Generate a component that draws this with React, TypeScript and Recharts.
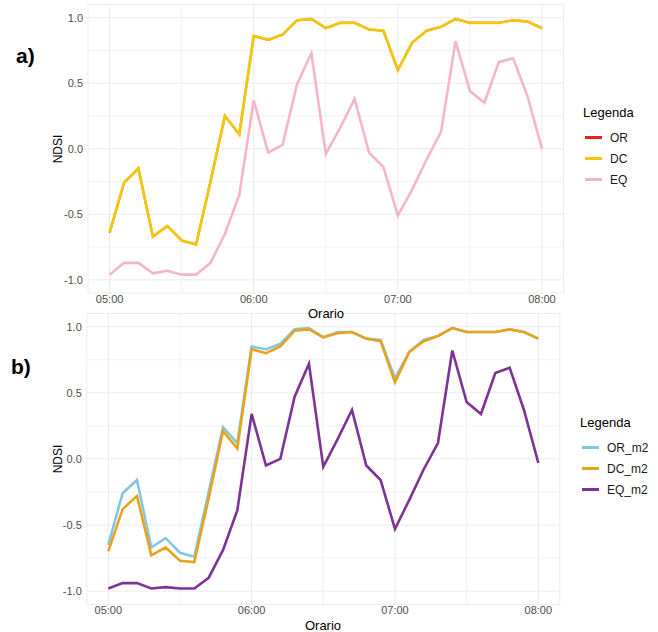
import { LineChart, Line, XAxis, YAxis, CartesianGrid, ReferenceLine } from "recharts";

const times = [
  "05:00", "05:06", "05:12", "05:18", "05:24", "05:30", "05:36", "05:42", "05:48", "05:54",
  "06:00", "06:06", "06:12", "06:18", "06:24", "06:30", "06:36", "06:42", "06:48", "06:54",
  "07:00", "07:06", "07:12", "07:18", "07:24", "07:30", "07:36", "07:42", "07:48", "07:54",
  "08:00",
];

// panel a
const orA = [-0.64, -0.26, -0.15, -0.67, -0.59, -0.70, -0.73, -0.25, 0.25, 0.11, 0.86, 0.83, 0.87, 0.98, 0.99, 0.92, 0.96, 0.96, 0.91, 0.90, 0.60, 0.81, 0.90, 0.93, 0.99, 0.96, 0.96, 0.96, 0.98, 0.97, 0.92];
const dcA = [-0.64, -0.26, -0.15, -0.67, -0.59, -0.70, -0.73, -0.25, 0.25, 0.11, 0.86, 0.83, 0.87, 0.98, 0.99, 0.92, 0.96, 0.96, 0.91, 0.90, 0.60, 0.81, 0.90, 0.93, 0.99, 0.96, 0.96, 0.96, 0.98, 0.97, 0.92];
const eqA = [-0.96, -0.87, -0.87, -0.95, -0.93, -0.96, -0.96, -0.87, -0.65, -0.35, 0.37, -0.03, 0.03, 0.49, 0.73, -0.04, 0.16, 0.38, -0.03, -0.14, -0.51, -0.31, -0.08, 0.13, 0.82, 0.44, 0.35, 0.66, 0.69, 0.40, 0.00];

// panel b
const orB = [-0.65, -0.26, -0.16, -0.67, -0.60, -0.71, -0.74, -0.25, 0.24, 0.12, 0.85, 0.83, 0.87, 0.98, 0.99, 0.92, 0.96, 0.96, 0.91, 0.90, 0.61, 0.81, 0.90, 0.93, 0.99, 0.96, 0.96, 0.96, 0.98, 0.96, 0.91];
const dcB = [-0.70, -0.38, -0.28, -0.73, -0.67, -0.77, -0.78, -0.30, 0.21, 0.08, 0.83, 0.80, 0.85, 0.97, 0.98, 0.92, 0.95, 0.96, 0.91, 0.89, 0.58, 0.81, 0.89, 0.93, 0.99, 0.96, 0.96, 0.96, 0.98, 0.96, 0.91];
const eqB = [-0.98, -0.94, -0.94, -0.98, -0.97, -0.98, -0.98, -0.90, -0.69, -0.39, 0.34, -0.05, 0.00, 0.47, 0.72, -0.06, 0.15, 0.37, -0.05, -0.16, -0.53, -0.31, -0.08, 0.12, 0.82, 0.43, 0.34, 0.65, 0.69, 0.37, -0.03];

const xMajor = [0, 60, 120, 180];
const xMinor = [30, 90, 150];
const yMajor = [-1, -0.5, 0, 0.5, 1];
const yMinor = [-0.75, -0.25, 0.25, 0.75];

const toMin = (t: string) => {
  const [h, m] = t.split(":").map(Number);
  return (h - 5) * 60 + m;
};
const fmtTime = (v: number) => `0${5 + Math.floor(v / 60)}:00`;

const dataA = times.map((t, i) => ({ min: toMin(t), OR: orA[i], DC: dcA[i], EQ: eqA[i] }));
const dataB = times.map((t, i) => ({ min: toMin(t), OR_m2: orB[i], DC_m2: dcB[i], EQ_m2: eqB[i] }));

const FONT = "'Liberation Sans', Arial, Helvetica, sans-serif";
const tickStyle = { fill: "#4d4d4d", fontSize: 11, fontFamily: FONT };

type Series = { key: string; color: string; width: number };

function Panel({ data, series, height, margin }: { data: any[]; series: Series[]; height: number; margin: any }) {
  return (
    <LineChart width={658} height={height} data={data} margin={margin}>
      <CartesianGrid stroke="#ebebeb" strokeWidth={1} />
      {xMinor.map((v) => (
        <ReferenceLine key={"x" + v} x={v} stroke="#efefef" strokeWidth={0.8} />
      ))}
      {yMinor.map((v) => (
        <ReferenceLine key={"y" + v} y={v} stroke="#efefef" strokeWidth={0.8} />
      ))}
      <XAxis
        type="number"
        dataKey="min"
        domain={[-9, 189]}
        ticks={xMajor}
        tickFormatter={fmtTime}
        axisLine={false}
        tickLine={false}
        tickSize={0}
        tickMargin={2}
        height={20}
        tick={tickStyle}
        allowDataOverflow
      />
      <YAxis
        type="number"
        domain={[-1.1, 1.1]}
        ticks={yMajor}
        tickFormatter={(v: number) => v.toFixed(1)}
        axisLine={false}
        tickLine={false}
        tickSize={0}
        tickMargin={5}
        width={50}
        tick={tickStyle}
        allowDataOverflow
      />
      {series.map((s) => (
        <Line key={s.key} type="linear" dataKey={s.key} stroke={s.color} strokeWidth={s.width} dot={false} isAnimationActive={false} />
      ))}
    </LineChart>
  );
}

// OR sits exactly under DC in panel a, so it is drawn a touch thinner
const seriesA: Series[] = [
  { key: "OR", color: "#e8211d", width: 2 },
  { key: "DC", color: "#f2c511", width: 2.8 },
  { key: "EQ", color: "#f5b5c7", width: 2.6 },
];
const seriesB: Series[] = [
  { key: "OR_m2", color: "#80c7e6", width: 2.6 },
  { key: "DC_m2", color: "#eaa21a", width: 2.6 },
  { key: "EQ_m2", color: "#7d3295", width: 2.6 },
];

function LegendBox({ x, y, items }: { x: number; y: number; items: Series[] }) {
  return (
    <div style={{ position: "absolute", left: x, top: y, fontFamily: FONT, color: "#000" }}>
      <div style={{ fontSize: 13, lineHeight: "16px", marginBottom: 6 }}>Legenda</div>
      {items.map((s) => (
        <div key={s.key} style={{ display: "flex", alignItems: "center", height: 21 }}>
          <div style={{ width: 17, height: 3, background: s.color, marginLeft: 2, marginRight: 8 }} />
          <span style={{ fontSize: 12, color: "#1a1a1a" }}>{s.key}</span>
        </div>
      ))}
    </div>
  );
}

const vLabel = (x: number, y: number, text: string) => (
  <div
    style={{
      position: "absolute",
      left: x - 30,
      top: y - 8,
      width: 60,
      textAlign: "center",
      transform: "rotate(-90deg)",
      fontSize: 12,
      lineHeight: "16px",
      fontFamily: FONT,
      color: "#000",
    }}
  >
    {text}
  </div>
);

const hLabel = (x: number, y: number, text: string) => (
  <div style={{ position: "absolute", left: x - 40, top: y - 8, width: 80, textAlign: "center", fontSize: 13, lineHeight: "16px", fontFamily: FONT, color: "#000" }}>
    {text}
  </div>
);

export default function App() {
  return (
    <div style={{ position: "absolute", left: 0, top: 0, width: 658, height: 632, background: "#fff", overflow: "hidden" }}>
      <div style={{ position: "absolute", left: 0, top: 0 }}>
        <Panel data={dataA} series={seriesA} height={320} margin={{ top: 4.5, right: 94.4, bottom: 7, left: 38 }} />
      </div>
      <div style={{ position: "absolute", left: 0, top: 300 }}>
        <Panel data={dataB} series={seriesB} height={332} margin={{ top: 13.5, right: 98.2, bottom: 7.7, left: 36.8 }} />
      </div>
      <div style={{ position: "absolute", left: 16, top: 44, fontSize: 21, fontWeight: "bold", fontFamily: FONT }}>a)</div>
      <div style={{ position: "absolute", left: 11, top: 355, fontSize: 21, fontWeight: "bold", fontFamily: FONT }}>b)</div>
      {vLabel(58, 149, "NDSI")}
      {vLabel(58, 459, "NDSI")}
      {hLabel(326, 314, "Orario")}
      {hLabel(323, 626, "Orario")}
      <LegendBox x={583} y={105} items={seriesA} />
      <LegendBox x={580} y={415} items={seriesB} />
    </div>
  );
}
